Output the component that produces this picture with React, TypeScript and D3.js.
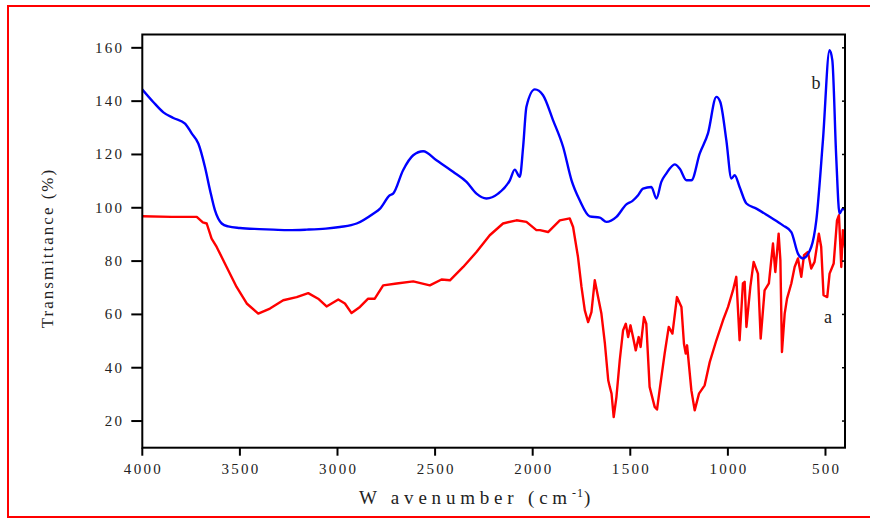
import React from "react";
import * as d3 from "d3";

// Wavenumber (cm-1) and transmittance (%)
const blueWn = [4000, 3944, 3892, 3841, 3781, 3747, 3713, 3679, 3653, 3628, 3593, 3560, 3500, 3400, 3329, 3250, 3158, 3060, 2988, 2902, 2817, 2782, 2732, 2715, 2664, 2612, 2561, 2493, 2408, 2339, 2288, 2237, 2177, 2117, 2092, 2066, 2049, 2032, 1989, 1947, 1896, 1844, 1801, 1759, 1708, 1656, 1622, 1571, 1520, 1490, 1460, 1435, 1392, 1366, 1341, 1315, 1272, 1247, 1212, 1187, 1144, 1102, 1059, 1039, 1008, 982, 965, 940, 905, 854, 786, 718, 675, 641, 616, 573, 547, 513, 479, 465, 445, 428, 411, 400];
const blueT = [144.4, 139.7, 135.8, 133.7, 131.6, 127.9, 124.1, 115.3, 106.6, 99.1, 94.1, 93.0, 92.4, 92.0, 91.8, 91.6, 91.8, 92.2, 92.8, 94.1, 97.8, 99.7, 104.7, 105.3, 114.1, 119.7, 121.2, 117.8, 113.5, 109.7, 105.3, 103.5, 105.3, 110.3, 114.3, 111.6, 122.8, 137.9, 144.4, 142.2, 132.9, 122.8, 110.3, 102.8, 96.8, 96.3, 94.7, 96.6, 101.3, 102.5, 104.7, 107.2, 107.8, 103.5, 109.7, 112.9, 116.3, 114.7, 110.3, 110.3, 120.4, 127.9, 141.6, 139.7, 125.4, 111.0, 112.2, 107.8, 101.6, 99.7, 96.6, 93.4, 90.9, 82.8, 81.0, 85.3, 95.3, 125.4, 159.1, 155.4, 119.1, 97.8, 99.7, 99.0];

const redWn = [4000, 3850, 3721, 3690, 3670, 3645, 3619, 3568, 3517, 3465, 3406, 3346, 3278, 3209, 3150, 3099, 3056, 2996, 2962, 2928, 2885, 2843, 2809, 2766, 2697, 2612, 2527, 2467, 2424, 2356, 2288, 2220, 2152, 2083, 2032, 1981, 1963, 1921, 1861, 1810, 1793, 1768, 1750, 1733, 1716, 1699, 1682, 1665, 1648, 1630, 1613, 1605, 1596, 1585, 1571, 1554, 1537, 1523, 1511, 1499, 1486, 1472, 1457, 1447, 1430, 1418, 1401, 1375, 1363, 1350, 1324, 1303, 1284, 1261, 1238, 1225, 1216, 1209, 1187, 1170, 1148, 1119, 1093, 1059, 1025, 999, 974, 957, 940, 923, 914, 905, 885, 868, 846, 832, 812, 790, 769, 757, 740, 731, 723, 709, 697, 675, 658, 641, 624, 610, 590, 573, 556, 534, 522, 510, 491, 479, 458, 441, 431, 419, 411, 400];
const redT = [96.8, 96.6, 96.6, 94.5, 94.1, 88.4, 85.3, 77.8, 70.3, 64.1, 60.3, 62.2, 65.3, 66.5, 68.0, 65.9, 63.0, 65.6, 64.1, 60.5, 62.8, 65.9, 65.9, 70.9, 71.6, 72.4, 70.9, 73.1, 72.8, 77.8, 83.4, 89.7, 94.1, 95.3, 94.7, 91.6, 91.6, 90.9, 95.3, 96.0, 92.8, 81.6, 70.3, 61.5, 57.1, 60.9, 72.8, 66.5, 60.3, 49.0, 35.3, 32.8, 30.3, 21.5, 29.0, 42.8, 54.0, 56.5, 51.5, 55.9, 51.5, 46.5, 51.5, 47.8, 59.0, 56.5, 32.8, 25.3, 24.3, 31.5, 45.3, 55.3, 52.8, 66.5, 62.8, 49.0, 45.3, 48.4, 31.5, 24.0, 30.3, 33.4, 42.1, 50.3, 57.8, 62.8, 69.0, 74.1, 50.3, 71.6, 72.2, 55.3, 70.3, 79.7, 75.3, 50.9, 69.0, 71.6, 86.6, 75.9, 90.3, 80.3, 45.9, 60.3, 65.9, 71.6, 77.8, 81.0, 74.1, 82.2, 83.4, 77.2, 79.7, 90.3, 85.3, 67.2, 66.5, 75.3, 79.1, 95.3, 97.2, 77.8, 91.6, 85.0];

const xTicks = [4000, 3500, 3000, 2500, 2000, 1500, 1000, 500];
const yTicks = [20, 40, 60, 80, 100, 120, 140, 160];

const W = 870;
const H = 518;
const L = 142.3, R = 845, T = 34.5, B = 447.7;
const FONT = "'Liberation Serif', 'Times New Roman', serif";

export default function App() {
  const x = d3.scaleLinear().domain([4000, 400]).range([L, R]);
  const y = d3.scaleLinear().domain([10, 165]).range([B, T]);

  const blue = blueWn.map((w, i) => [w, blueT[i]] as [number, number]);
  const red = redWn.map((w, i) => [w, redT[i]] as [number, number]);

  const lineB = d3.line<[number, number]>().x(d => x(d[0])).y(d => y(d[1])).curve(d3.curveMonotoneX);
  const lineR = d3.line<[number, number]>().x(d => x(d[0])).y(d => y(d[1])).curve(d3.curveLinear);

  const tickLS = 2.3;
  return (
    <svg width={W} height={H} style={{ position: "absolute", left: 0, top: 0, background: "#fff" }}>
      <rect x={8} y={6} width={870} height={511} fill="none" stroke="#ff0000" strokeWidth={2} />
      <defs>
        <clipPath id="plot"><rect x={L} y={T} width={R - L} height={B - T} /></clipPath>
      </defs>
      <g clipPath="url(#plot)" fill="none" strokeLinejoin="round" strokeLinecap="round">
        <path d={lineR(red) || ""} stroke="#ff0000" strokeWidth={2.4} />
        <path d={lineB(blue) || ""} stroke="#0000ff" strokeWidth={2.4} />
      </g>
      <rect x={L} y={T} width={R - L} height={B - T} fill="none" stroke="#000" strokeWidth={2} />
      {yTicks.map(t => (
        <g key={"y" + t}>
          <line x1={L - 11} x2={L} y1={y(t)} y2={y(t)} stroke="#000" strokeWidth={2} />
          <line x1={R - 3} x2={R} y1={y(t)} y2={y(t)} stroke="#000" strokeWidth={1.5} />
          <text x={122 + tickLS} y={y(t) + 5} textAnchor="end" fontFamily={FONT} fontSize={15} letterSpacing={tickLS} fill="#222">{t}</text>
        </g>
      ))}
      {xTicks.map(t => (
        <g key={"x" + t}>
          <line x1={x(t)} x2={x(t)} y1={B} y2={B + 8} stroke="#000" strokeWidth={2} />
          <text x={x(t) + tickLS / 2} y={474} textAnchor="middle" fontFamily={FONT} fontSize={15} letterSpacing={tickLS} fill="#222">{t}</text>
        </g>
      ))}
      <text transform="translate(53,248) rotate(-90)" textAnchor="middle" fontFamily={FONT} fontSize={17} letterSpacing={2.0} fill="#222">Transmittance (%)</text>
      <text x={477} y={504} textAnchor="middle" fontFamily={FONT} fontSize={19} letterSpacing={4.8} fill="#222">
        W avenumber (cm<tspan dy={-7} fontSize={12} letterSpacing={1}>-1</tspan><tspan dy={7}>)</tspan>
      </text>
      <text x={816} y={89} textAnchor="middle" fontFamily={FONT} fontSize={18} fill="#222">b</text>
      <text x={828} y={323} textAnchor="middle" fontFamily={FONT} fontSize={18} fill="#222">a</text>
    </svg>
  );
}
